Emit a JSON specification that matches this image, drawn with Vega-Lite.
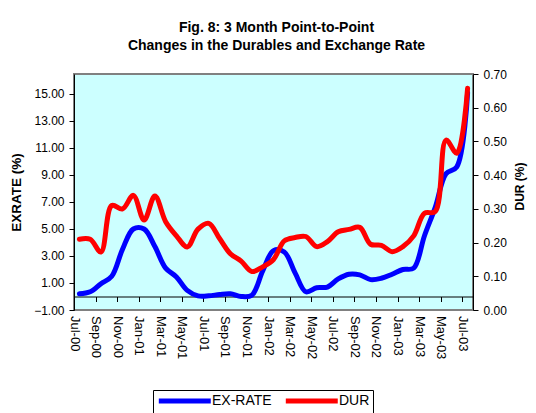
{
  "$schema": "https://vega.github.io/schema/vega-lite/v6.json",
  "width": 399,
  "height": 236,
  "autosize": {"type": "none"},
  "padding": {"left": 74, "top": 74, "right": 63, "bottom": 103},
  "background": "white",
  "config": {
    "font": "Liberation Sans",
    "view": {"fill": "#CCFFFF", "stroke": "#808080", "strokeWidth": 2},
    "axis": {"grid": false, "domainColor": "black", "tickColor": "black", "labelColor": "black", "titleColor": "black", "labelFont": "Liberation Sans", "titleFont": "Liberation Sans"}
  },
  "title": {
    "text": "Fig. 8: 3 Month Point-to-Point",
    "subtitle": "Changes in the Durables and Exchange Rate",
    "anchor": "middle",
    "font": "Liberation Sans",
    "subtitleFont": "Liberation Sans",
    "fontSize": 14,
    "subtitleFontSize": 14,
    "fontWeight": "bold",
    "subtitleFontWeight": "bold",
    "color": "black",
    "subtitleColor": "black",
    "subtitlePadding": 4,
    "offset": 15,
    "dx": 3
  },
  "data": {"values": [
    {"month": "Jul-00", "exrate": 0.2, "dur": 0.21},
    {"month": "Aug-00", "exrate": 0.35, "dur": 0.21},
    {"month": "Sep-00", "exrate": 0.95, "dur": 0.172},
    {"month": "Oct-00", "exrate": 1.5, "dur": 0.31},
    {"month": "Nov-00", "exrate": 3.5, "dur": 0.3},
    {"month": "Dec-00", "exrate": 5.0, "dur": 0.34},
    {"month": "Jan-01", "exrate": 5.0, "dur": 0.267},
    {"month": "Feb-01", "exrate": 3.7, "dur": 0.338},
    {"month": "Mar-01", "exrate": 2.1, "dur": 0.262},
    {"month": "Apr-01", "exrate": 1.45, "dur": 0.22},
    {"month": "May-01", "exrate": 0.45, "dur": 0.187},
    {"month": "Jun-01", "exrate": 0.05, "dur": 0.24},
    {"month": "Jul-01", "exrate": 0.05, "dur": 0.257},
    {"month": "Aug-01", "exrate": 0.15, "dur": 0.212},
    {"month": "Sep-01", "exrate": 0.2, "dur": 0.167},
    {"month": "Oct-01", "exrate": 0.0, "dur": 0.145},
    {"month": "Nov-01", "exrate": 0.1, "dur": 0.114},
    {"month": "Dec-01", "exrate": 1.9, "dur": 0.128},
    {"month": "Jan-02", "exrate": 3.4, "dur": 0.15},
    {"month": "Feb-02", "exrate": 3.3, "dur": 0.205},
    {"month": "Mar-02", "exrate": 1.75, "dur": 0.215},
    {"month": "Apr-02", "exrate": 0.35, "dur": 0.218},
    {"month": "May-02", "exrate": 0.65, "dur": 0.188},
    {"month": "Jun-02", "exrate": 0.7, "dur": 0.203},
    {"month": "Jul-02", "exrate": 1.3, "dur": 0.232},
    {"month": "Aug-02", "exrate": 1.65, "dur": 0.239},
    {"month": "Sep-02", "exrate": 1.6, "dur": 0.245},
    {"month": "Oct-02", "exrate": 1.25, "dur": 0.195},
    {"month": "Nov-02", "exrate": 1.35, "dur": 0.192},
    {"month": "Dec-02", "exrate": 1.65, "dur": 0.173},
    {"month": "Jan-03", "exrate": 2.0, "dur": 0.188},
    {"month": "Feb-03", "exrate": 2.1, "dur": 0.22},
    {"month": "Mar-03", "exrate": 4.5, "dur": 0.287},
    {"month": "Apr-03", "exrate": 6.6, "dur": 0.292},
    {"month": "May-03", "exrate": 9.1, "dur": 0.504},
    {"month": "Jun-03", "exrate": 9.6, "dur": 0.465},
    {"month": "Jul-03", "exrate": 15.1, "dur": 0.658}
  ]},
  "encoding": {
    "x": {
      "field": "month", "type": "ordinal", "sort": null,
      "scale": {"type": "point", "padding": 0.5},
      "axis": {
        "orient": "bottom", "title": null, "offset": -13.5,
        "values": ["Jul-00","Sep-00","Nov-00","Jan-01","Mar-01","May-01","Jul-01","Sep-01","Nov-01","Jan-02","Mar-02","May-02","Jul-02","Sep-02","Nov-02","Jan-03","Mar-03","May-03","Jul-03"],
        "tickOffset": -5.39, "tickSize": 5, "labelAngle": 90, "labelAlign": "left", "labelBaseline": "middle",
        "labelFontSize": 13, "labelPadding": 14, "labelOverlap": false, "labelFlush": false, "labelBound": false
      }
    }
  },
  "layer": [
    {
      "mark": {"type": "line", "strokeWidth": 5, "interpolate": "catmull-rom", "strokeCap": "round", "strokeJoin": "round"},
      "encoding": {
        "y": {
          "field": "exrate", "type": "quantitative",
          "scale": {"domain": [-1, 16.48], "nice": false, "zero": false},
          "axis": {
            "orient": "left", "values": [-1,1,3,5,7,9,11,13,15], "format": ".2f",
            "title": "EXRATE (%)", "titleFontSize": 13.5, "titleFontWeight": "bold",
            "titleX": -58, "titleY": 118, "titleAngle": -90, "titleBaseline": "middle", "titleAlign": "center",
            "labelFontSize": 12, "tickSize": 5, "labelPadding": 5, "labelFlush": false, "labelOverlap": false
          }
        },
        "color": {
          "datum": "EX-RATE",
          "scale": {"domain": ["EX-RATE", "DUR"], "range": ["#0000FF", "#FF0000"]},
          "legend": {
            "orient": "none", "legendX": 79, "legendY": 316, "direction": "horizontal", "title": null,
            "symbolType": "M-1,0H9", "symbolSize": 108, "symbolStrokeWidth": 5,
            "labelFontSize": 14, "labelColor": "black", "labelOffset": 40,
            "strokeColor": "black", "padding": 3, "columnPadding": 3
          }
        }
      }
    },
    {
      "mark": {"type": "line", "strokeWidth": 5, "interpolate": "catmull-rom", "strokeCap": "round", "strokeJoin": "round"},
      "encoding": {
        "y": {
          "field": "dur", "type": "quantitative",
          "scale": {"domain": [0, 0.7], "nice": false},
          "axis": {
            "orient": "right", "values": [0,0.1,0.2,0.3,0.4,0.5,0.6,0.7], "format": ".2f",
            "title": "DUR (%)", "titleFontSize": 12, "titleFontWeight": "bold",
            "titleX": 46.5, "titleY": 112, "titleAngle": -90, "titleBaseline": "middle", "titleAlign": "center",
            "labelFontSize": 12, "tickSize": 5, "labelPadding": 5, "labelFlush": false, "labelOverlap": false
          }
        },
        "color": {"datum": "DUR"}
      }
    }
  ],
  "resolve": {"scale": {"y": "independent"}, "axis": {"y": "independent"}}
}
